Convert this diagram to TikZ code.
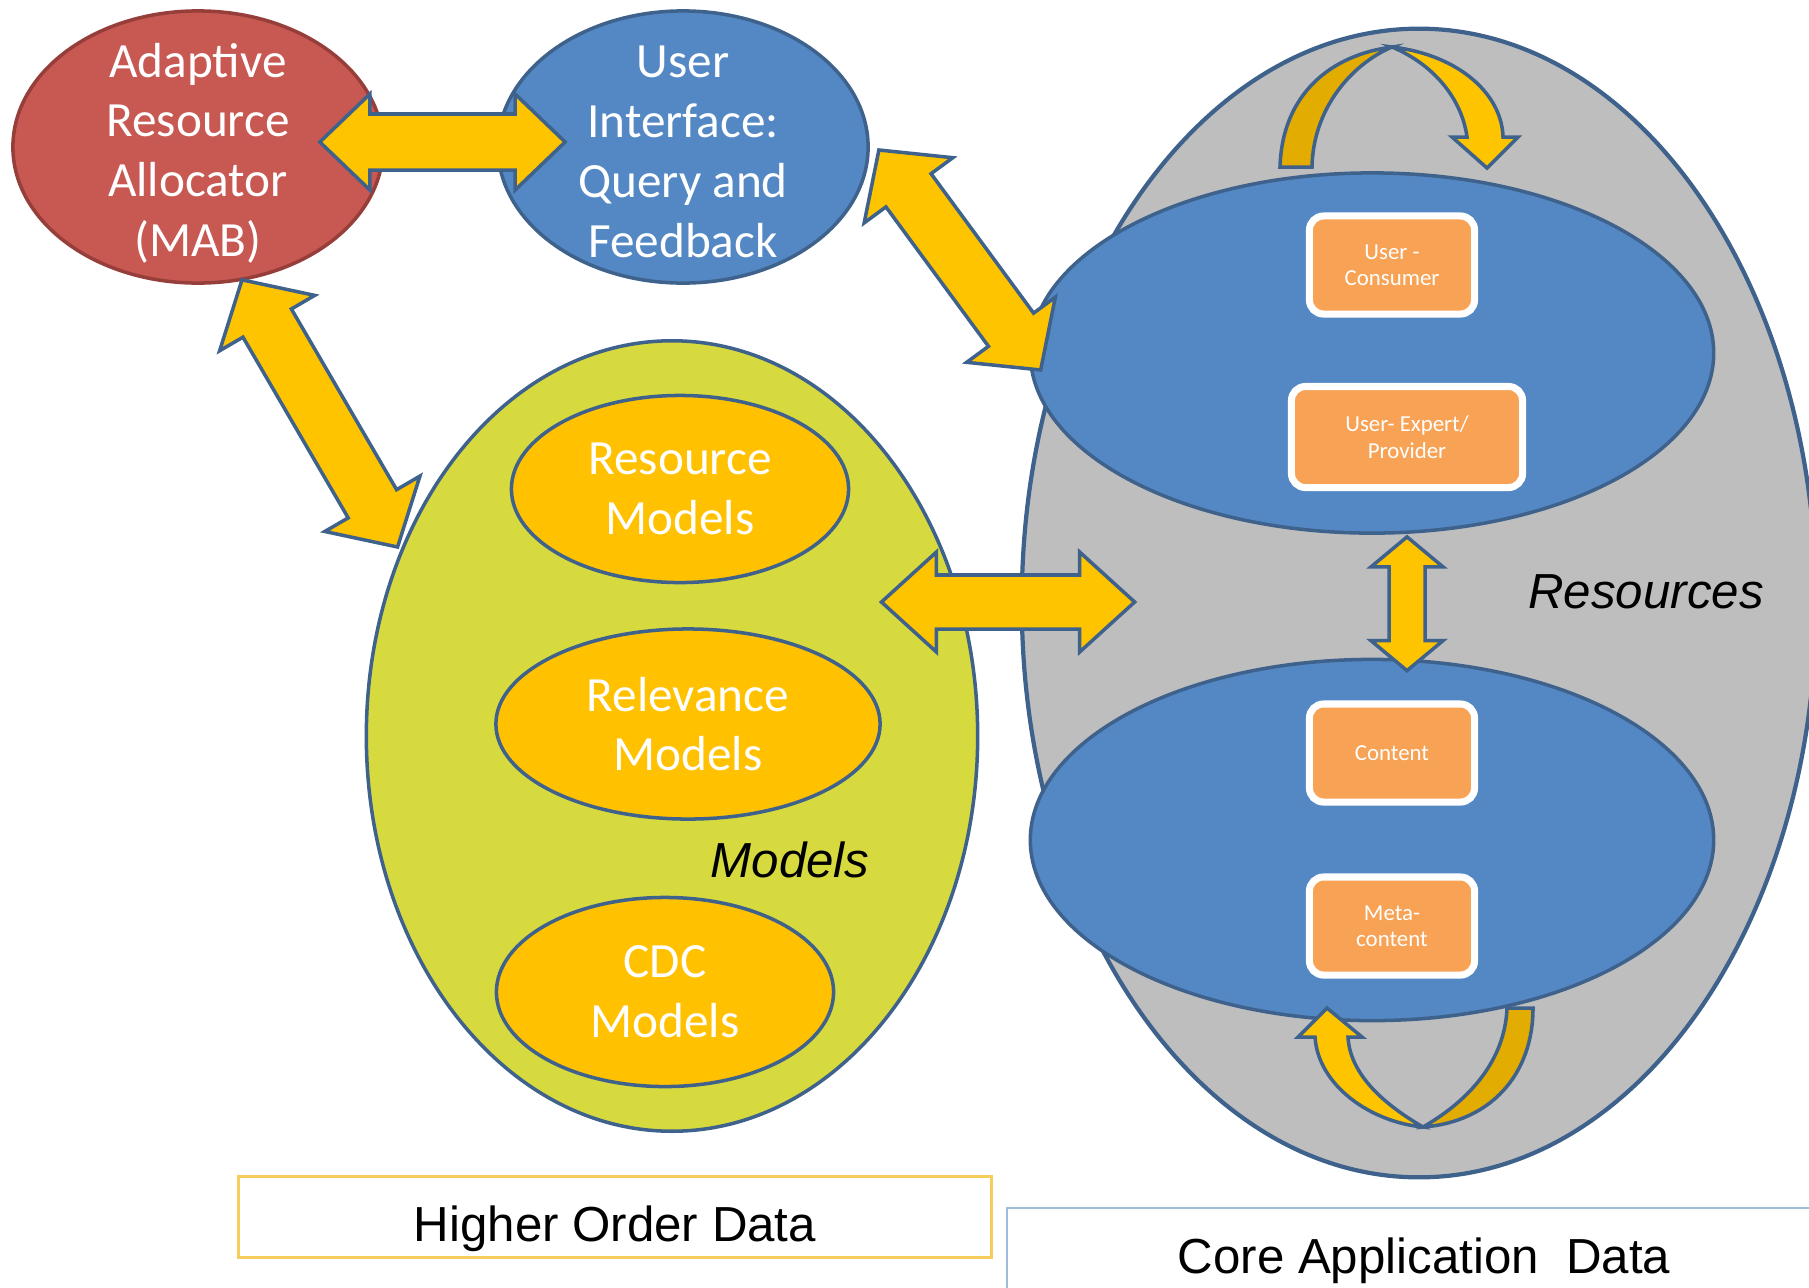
\documentclass[tikz,border=0pt]{standalone}
\usepackage{fontspec}
\setmainfont{Carlito}
\newfontfamily\arialfont{Liberation Sans}
\usetikzlibrary{shapes.geometric}
\usetikzlibrary{calc}
\definecolor{mabred}{RGB}{200,88,82}
\definecolor{mabedge}{RGB}{150,62,58}
\definecolor{uiblue}{RGB}{84,136,196}
\definecolor{edgeblue}{RGB}{62,98,140}
\definecolor{modelgreen}{RGB}{215,218,62}
\definecolor{gold}{RGB}{255,193,0}
\definecolor{coregrey}{RGB}{190,190,190}
\definecolor{tagorange}{RGB}{247,162,84}
\definecolor{arrowgold}{RGB}{255,196,0}
\definecolor{arrowdark}{RGB}{226,172,0}
\definecolor{hodgold}{RGB}{246,204,90}
\definecolor{cadblue}{RGB}{160,188,220}
\tikzset{
  bubble/.style={ellipse, inner sep=0pt, line width=1pt},
  bubtext/.style={align=center, text=white, font=\fontsize{14}{17}\selectfont},
  goldbubble/.style={bubble, bubtext, fill=gold, draw=edgeblue},
  tagbox/.style={rectangle, rounded corners=4pt, fill=tagorange, draw=white,
    line width=2pt, text=white, align=center, inner sep=0pt,
    minimum width=1.65cm, minimum height=0.98cm,
    font=\fontsize{6.5}{7.5}\selectfont},
  caption/.style={font=\arialfont\itshape\fontsize{14}{17}\selectfont},
  databox/.style={rectangle, inner sep=0pt, font=\arialfont\fontsize{14}{17}\selectfont},
  blockfill/.style={fill=arrowgold, draw=edgeblue, line width=1pt, line join=miter},
}
% block double arrow: tip, tip, head length, head half width, shaft half width
\newcommand{\blockarrow}[5]{%
  \coordinate (ba1) at ($(#1)!#3!(#2)$);
  \coordinate (ba2) at ($(#2)!#3!(#1)$);
  \draw[blockfill] (#1)
    -- ($(ba1)!#4!90:(#2)$) -- ($(ba1)!#5!90:(#2)$)
    -- ($(ba2)!#5!-90:(#1)$) -- ($(ba2)!#4!-90:(#1)$)
    -- (#2)
    -- ($(ba2)!#4!90:(#1)$) -- ($(ba2)!#5!90:(#1)$)
    -- ($(ba1)!#5!-90:(#2)$) -- ($(ba1)!#4!-90:(#2)$)
    -- cycle;
}

\begin{document}
\begin{tikzpicture}[x=0.01cm, y=-0.01cm]
  \useasboundingbox (0,0) rectangle (1809,1287);
  % resources
  \node[ellipse, fill=coregrey, draw=edgeblue, line width=1.2pt, inner sep=0pt,
    minimum width=7.94cm, minimum height=11.48cm] (resources) at (1419,603) {};
  \node[bubble, fill=uiblue, draw=edgeblue, minimum width=6.83cm, minimum height=3.6cm] (users) at (1372,353) {};
  \node[bubble, fill=uiblue, draw=edgeblue, minimum width=6.83cm, minimum height=3.61cm] (items) at (1372,840) {};
  \node[tagbox] (consumer) at (1392,265) {User -\\Consumer};
  \node[tagbox, minimum width=2.31cm, minimum height=1.01cm] (expert) at (1407,437) {User- Expert/\\Provider};
  \node[tagbox] (contentbox) at (1392,753) {Content};
  \node[tagbox] (metabox) at (1392,926) {Meta-\\content};
  \node[caption] (reslabel) at (1646,592) {Resources};
  % loops
  \draw[blockfill, fill=arrowdark] (1280,167) .. controls (1282,95) and (1330,55) .. (1392,47)
    .. controls (1350,65) and (1313,110) .. (1312,167) -- cycle;
  \draw[blockfill] (1392,47) .. controls (1460,55) and (1502,95) .. (1503,137)
    -- (1518,137) -- (1487,168) -- (1452,137) -- (1467,137)
    .. controls (1462,100) and (1435,65) .. (1392,47) -- cycle;
  \draw[blockfill] (1315,1037) .. controls (1318,1085) and (1370,1122) .. (1423,1127)
    .. controls (1385,1105) and (1350,1075) .. (1348,1037)
    -- (1362,1037) -- (1327,1008) -- (1298,1037) -- cycle;
  \draw[blockfill, fill=arrowdark] (1507,1008) -- (1533,1008)
    .. controls (1533,1075) and (1490,1122) .. (1423,1127)
    .. controls (1470,1100) and (1505,1060) .. (1507,1008) -- cycle;
  % models
  \node[ellipse, fill=modelgreen, draw=edgeblue, line width=1pt, inner sep=0pt,
    minimum width=6.11cm, minimum height=7.9cm] (models) at (672,736) {};
  \node[goldbubble, minimum width=3.37cm, minimum height=1.87cm] (resmod) at (680,489) {Resource\\Models};
  \node[goldbubble, minimum width=3.84cm, minimum height=1.9cm] (relmod) at (688,724) {Relevance\\Models};
  \node[goldbubble, minimum width=3.37cm, minimum height=1.89cm] (cdcmod) at (665,992) {CDC\\Models};
  \node[caption] (modlabel) at (790,860) {Models};
  % allocator and interface
  \node[bubble, fill=mabred, draw=mabedge, minimum width=3.7cm, minimum height=2.72cm] (mab) at (198,147) {};
  \node[bubtext] (mabtext) at ($(mab)+(0,6)$) {Adaptive\\Resource\\Allocator\\(MAB)};
  \node[bubble, fill=uiblue, draw=edgeblue, minimum width=3.7cm, minimum height=2.72cm] (ui) at (683,147) {};
  \node[bubtext] (uitext) at ($(ui)+(0,5)$) {User\\Interface:\\Query and\\Feedback};
  % arrows
  \coordinate (a1) at ($(mab.east)+(-65,-5)$);
  \coordinate (a2) at ($(ui.west)+(69,-5)$);
  \coordinate (b1) at ($(mab.south)+(44,-5)$);
  \coordinate (b2) at ($(models.west)+(33,-189)$);
  \coordinate (c1) at ($(ui.east)+(9,3)$);
  \coordinate (c2) at ($(resources.west)+(21,-233)$);
  \coordinate (d1) at ($(models.east)+(-98,-134)$);
  \coordinate (d2) at ($(resources.west)+(115,-1)$);
  \coordinate (e1) at ($(users.south)+(35,2)$);
  \coordinate (e2) at ($(items.north)+(35,13)$);
  \blockarrow{a1}{a2}{0.5cm}{0.48cm}{0.28cm}
  \blockarrow{b1}{b2}{0.5cm}{0.55cm}{0.28cm}
  \blockarrow{c1}{c2}{0.5cm}{0.55cm}{0.28cm}
  \blockarrow{d1}{d2}{0.55cm}{0.5cm}{0.27cm}
  \blockarrow{e1}{e2}{0.3cm}{0.36cm}{0.18cm}
  % data boxes
  \node[databox, draw=hodgold, line width=0.8pt, minimum width=7.53cm, minimum height=0.81cm] (hod) at (615,1217) {};
  \node[databox] (hodtext) at (615,1229) {Higher Order Data};
  \draw[cadblue, line width=0.8pt] (1007,1300) |- (1830,1208);
  \node[databox] (cad) at (1424,1261) {Core Application\ \ Data};
\end{tikzpicture}
\end{document}
